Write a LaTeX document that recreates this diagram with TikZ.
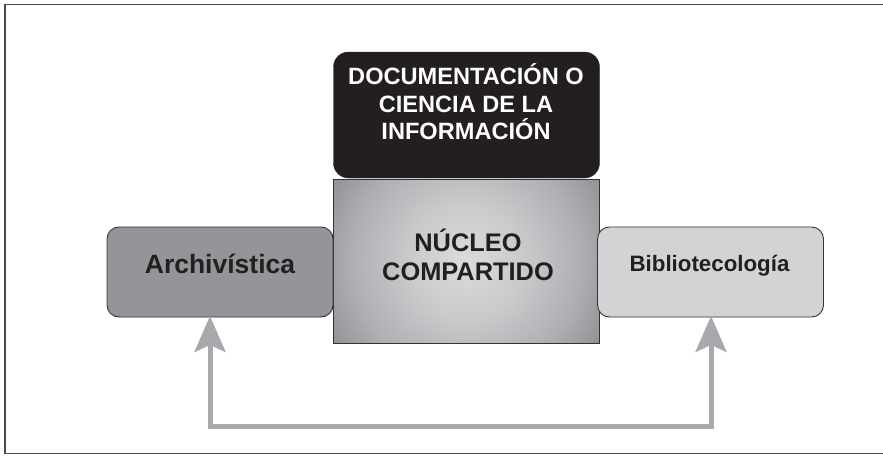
\documentclass[tikz,border=0pt]{standalone}
\usepackage{fontspec}
\setmainfont{Liberation Sans}
\usetikzlibrary{arrows.meta}
\definecolor{frameC}{HTML}{4A4A4C}
\definecolor{inkC}{HTML}{231F20}
\definecolor{archC}{HTML}{939598}
\definecolor{bibC}{HTML}{D1D3D4}
\definecolor{arrC}{HTML}{A7A9AC}
\definecolor{edgeC}{HTML}{333333}
\definecolor{nA}{HTML}{DADBDD}
\definecolor{nB}{HTML}{C9CACC}
\definecolor{nC}{HTML}{AEAFB2}
\definecolor{nD}{HTML}{939497}
\definecolor{nE}{HTML}{5E5E60}
\definecolor{nF}{HTML}{2C2C2C}
\definecolor{nG}{HTML}{1E1E1E}
\pgfdeclareradialshading{nucleoshade}{\pgfpoint{0bp}{0bp}}{%
  color(0bp)=(nA); color(9bp)=(nB); color(18bp)=(nC); color(24bp)=(nD);
  color(29bp)=(nE); color(34bp)=(nF); color(50bp)=(nG)}
\tikzset{
  x=1pt, y=-1pt,
  sidebox/.style={draw=edgeC, line width=0.9pt, rounded corners=12pt,
    minimum width=226pt, minimum height=90pt, inner sep=0pt},
  darkbox/.style={fill=inkC, draw=inkC, rounded corners=15pt,
    minimum width=266pt, minimum height=126pt, inner sep=0pt},
  boldtxt/.style={font=\bfseries, text=inkC, align=center, inner sep=0pt},
  arr/.style={draw=arrC, line width=5pt, line join=miter,
    {Stealth[width=31pt,length=36pt,inset=7pt]}-{Stealth[width=31pt,length=36pt,inset=7pt]}},
}
\begin{document}
\begin{tikzpicture}
\useasboundingbox (0,0) rectangle (883,455);
\fill[white] (0,0) rectangle (883,455);
% frame
\draw[frameC, line width=1.5pt] (885,4.5) -- (4.8,4.5) -- (4.8,453.5) -- (885,453.5);

% core box
\coordinate (nuc) at (466,261);
\begin{scope}
  \clip (333,179) rectangle (599,343);
  \fill[shading=nucleoshade] (nuc) circle (160pt);
\end{scope}
\node[draw=edgeC, line width=0.9pt, minimum width=266pt, minimum height=164pt, inner sep=0pt] (core) at (nuc) {};

% documentation box
\node[darkbox] (doc) at (466.5,115) {};
\node[boldtxt, text=white, font=\fontsize{23.6}{27.5}\selectfont\bfseries] (doctxt) at (466,102)
  {DOCUMENTACIÓN O\\CIENCIA DE LA\\INFORMACIÓN};

\node[boldtxt, font=\fontsize{25.4}{29}\selectfont\bfseries] (coretxt) at (468,255)
  {NÚCLEO\\COMPARTIDO};

% side boxes
\node[sidebox, fill=archC] (arch) at (220,272) {};
\node[boldtxt, font=\fontsize{26.5}{30}\selectfont\bfseries] (archtxt) at (220,263.5) {Archivística};
\node[sidebox, fill=bibC] (bib) at (710.5,272) {};
\node[boldtxt, font=\fontsize{22.3}{26}\selectfont\bfseries] (bibtxt) at (709.5,265.5) {Bibliotecología};

% connector
\coordinate (la) at ([xshift=-10pt,yshift=1.5pt]arch.south);
\coordinate (ra) at ([xshift=0.5pt,yshift=1.5pt]bib.south);
\draw[arr] (la) -- ++(0,111) -| (ra);
\end{tikzpicture}
\end{document}
